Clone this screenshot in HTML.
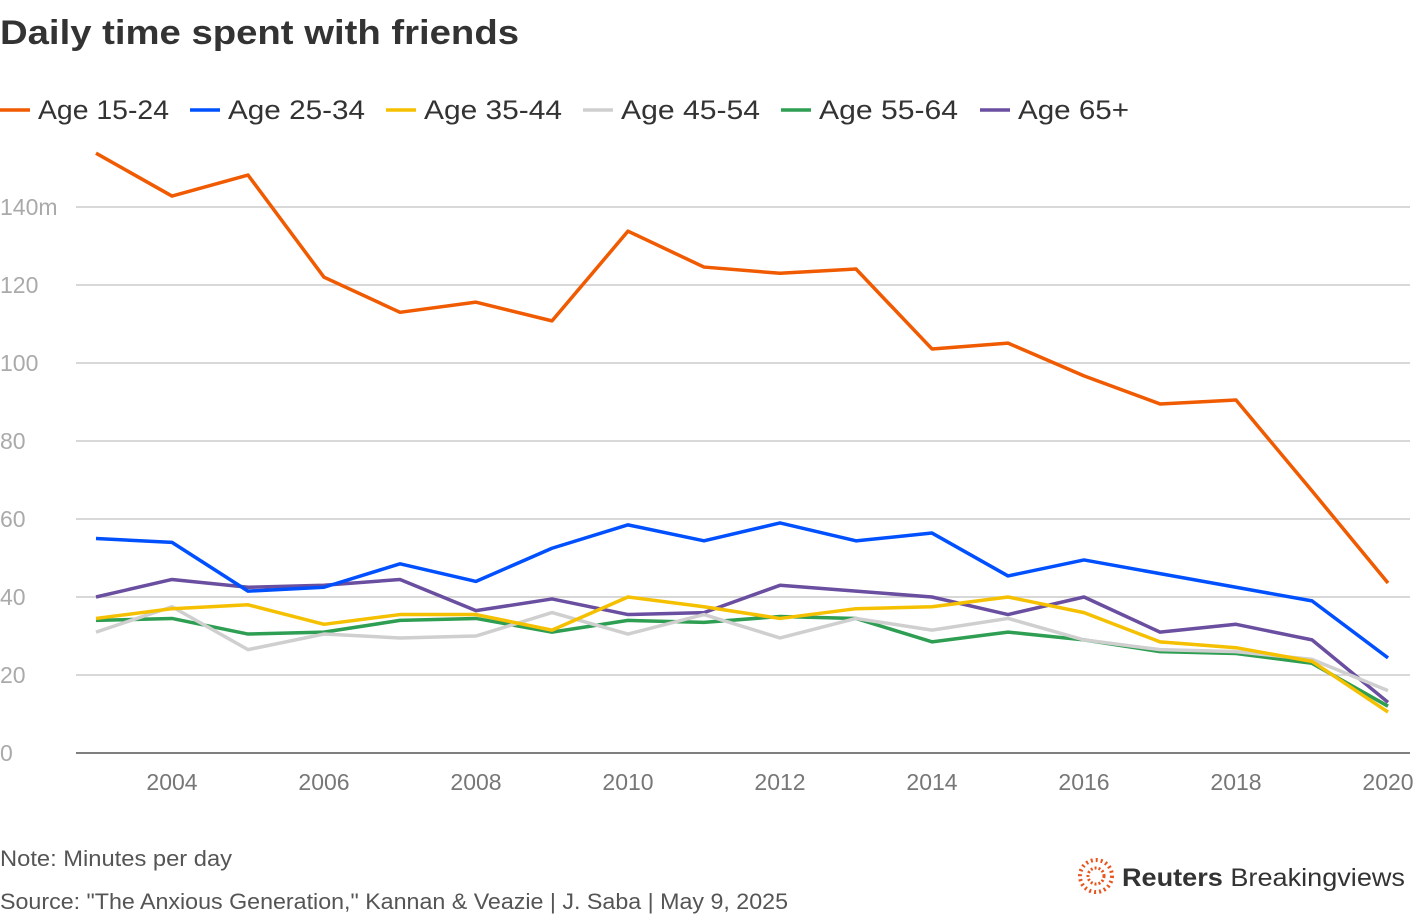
<!DOCTYPE html>
<html><head><meta charset="utf-8"><style>
body{margin:0;background:#fff;font-family:"Liberation Sans",sans-serif}
svg text{font-family:"Liberation Sans",sans-serif}
</style></head><body>
<svg id="c" width="1420" height="916">
<text x="0" y="44" font-size="34" font-weight="bold" fill="#333" textLength="519" lengthAdjust="spacingAndGlyphs">Daily time spent with friends</text>
<g id="legend"></g>
<g id="grid"></g>
<g id="lines"></g>
<text x="0" y="866" font-size="22" fill="#555" textLength="232" lengthAdjust="spacingAndGlyphs">Note: Minutes per day</text>
<text x="0" y="909" font-size="22" fill="#555" textLength="788" lengthAdjust="spacingAndGlyphs">Source: "The Anxious Generation," Kannan &amp; Veazie | J. Saba | May 9, 2025</text>
<g>
<circle cx="1096" cy="876" r="16" fill="none" stroke="#e8541c" stroke-width="4" stroke-dasharray="2 3"/>
<circle cx="1096" cy="876" r="8" fill="none" stroke="#e8541c" stroke-width="3" stroke-dasharray="2 2"/>
<text x="1122" y="886" font-size="25" fill="#333" textLength="283" lengthAdjust="spacingAndGlyphs"><tspan font-weight="bold">Reuters</tspan> Breakingviews</text>
</g>
</svg>
<script>
const years=[2003,2004,2005,2006,2007,2008,2009,2010,2011,2012,2013,2014,2015,2016,2017,2018,2019,2020];
const age1524=[153.8,142.8,148.2,122,113,115.6,110.8,133.8,124.6,123,124.1,103.6,105.1,96.7,89.5,90.5,67.2,43.6];
const age2534=[55,54,41.5,42.5,48.5,44,52.5,58.5,54.4,59,54.4,56.4,45.4,49.5,46,42.5,39,24.4];
const age3544=[34.5,37,38,33,35.5,35.5,31.5,40,37.5,34.5,37,37.5,40,36,28.5,27,23.5,10.5];
const age4554=[31,37.5,26.5,30.5,29.5,30,36,30.5,35.5,29.5,34.5,31.5,34.5,29,26.5,26,24,16];
const age5564=[34,34.5,30.5,31,34,34.5,31,34,33.5,35,34.5,28.5,31,29,26,25.5,23,12];
const age65=[40,44.5,42.5,43,44.5,36.5,39.5,35.5,36,43,41.5,40,35.5,40,31,33,29,13];
const yTicks=[0,20,40,60,80,100,120,140];
const xTicks=[2004,2006,2008,2010,2012,2014,2016,2018,2020];
const seriesNames=["Age 15-24","Age 25-34","Age 35-44","Age 45-54","Age 55-64","Age 65+"];
const colors=["#f05a00","#0050ff","#f5c000","#cfcfcf","#2e9e52","#6a4ea0"];
const series=[age1524,age2534,age3544,age4554,age5564,age65];
const ns="http://www.w3.org/2000/svg";
const X=y=>96+(y-2003)*76;
const Y=v=>753-v*3.9;
function mk(t,a,p){const e=document.createElementNS(ns,t);for(const k in a)e.setAttribute(k,a[k]);p.appendChild(e);return e;}
const grid=document.getElementById('grid');
yTicks.forEach(v=>{
 const l=mk('line',{x1:76,x2:1410,y1:Y(v),y2:Y(v),stroke:v===0?'#555':'#ccc','stroke-width':1.5},grid);
 
 
 const t=mk('text',{x:0,y:Y(v)+8,'font-size':23,fill:'#aaa'},grid);
 t.textContent=v===140?'140m':v;
 
 
});
xTicks.forEach(yr=>{
 const t=mk('text',{x:X(yr),y:790,'font-size':23,fill:'#777','text-anchor':'middle'},grid);
 t.textContent=yr;
 
 
});
const lines=document.getElementById('lines');
for(let i=series.length-1;i>=0;i--){
 const p=mk('polyline',{points:series[i].map((v,j)=>X(years[j])+','+Y(v)).join(' '),fill:'none',stroke:colors[i],'stroke-width':3.5,'stroke-linejoin':'round'},lines);
 
 
}
const lg=document.getElementById('legend');
const lx=[0,190,386,583,781,980];
const lw=[131,137,138,139,139,111];
seriesNames.forEach((n,i)=>{
 const g=mk('g',{},lg);
 
 
 mk('line',{x1:lx[i],x2:lx[i]+30,y1:110,y2:110,stroke:colors[i],'stroke-width':3.5},g);
 const t=mk('text',{x:lx[i]+38,y:119,'font-size':27,fill:'#333',textLength:lw[i],lengthAdjust:'spacingAndGlyphs'},g);
 t.textContent=n;
});
</script>
</body></html>
